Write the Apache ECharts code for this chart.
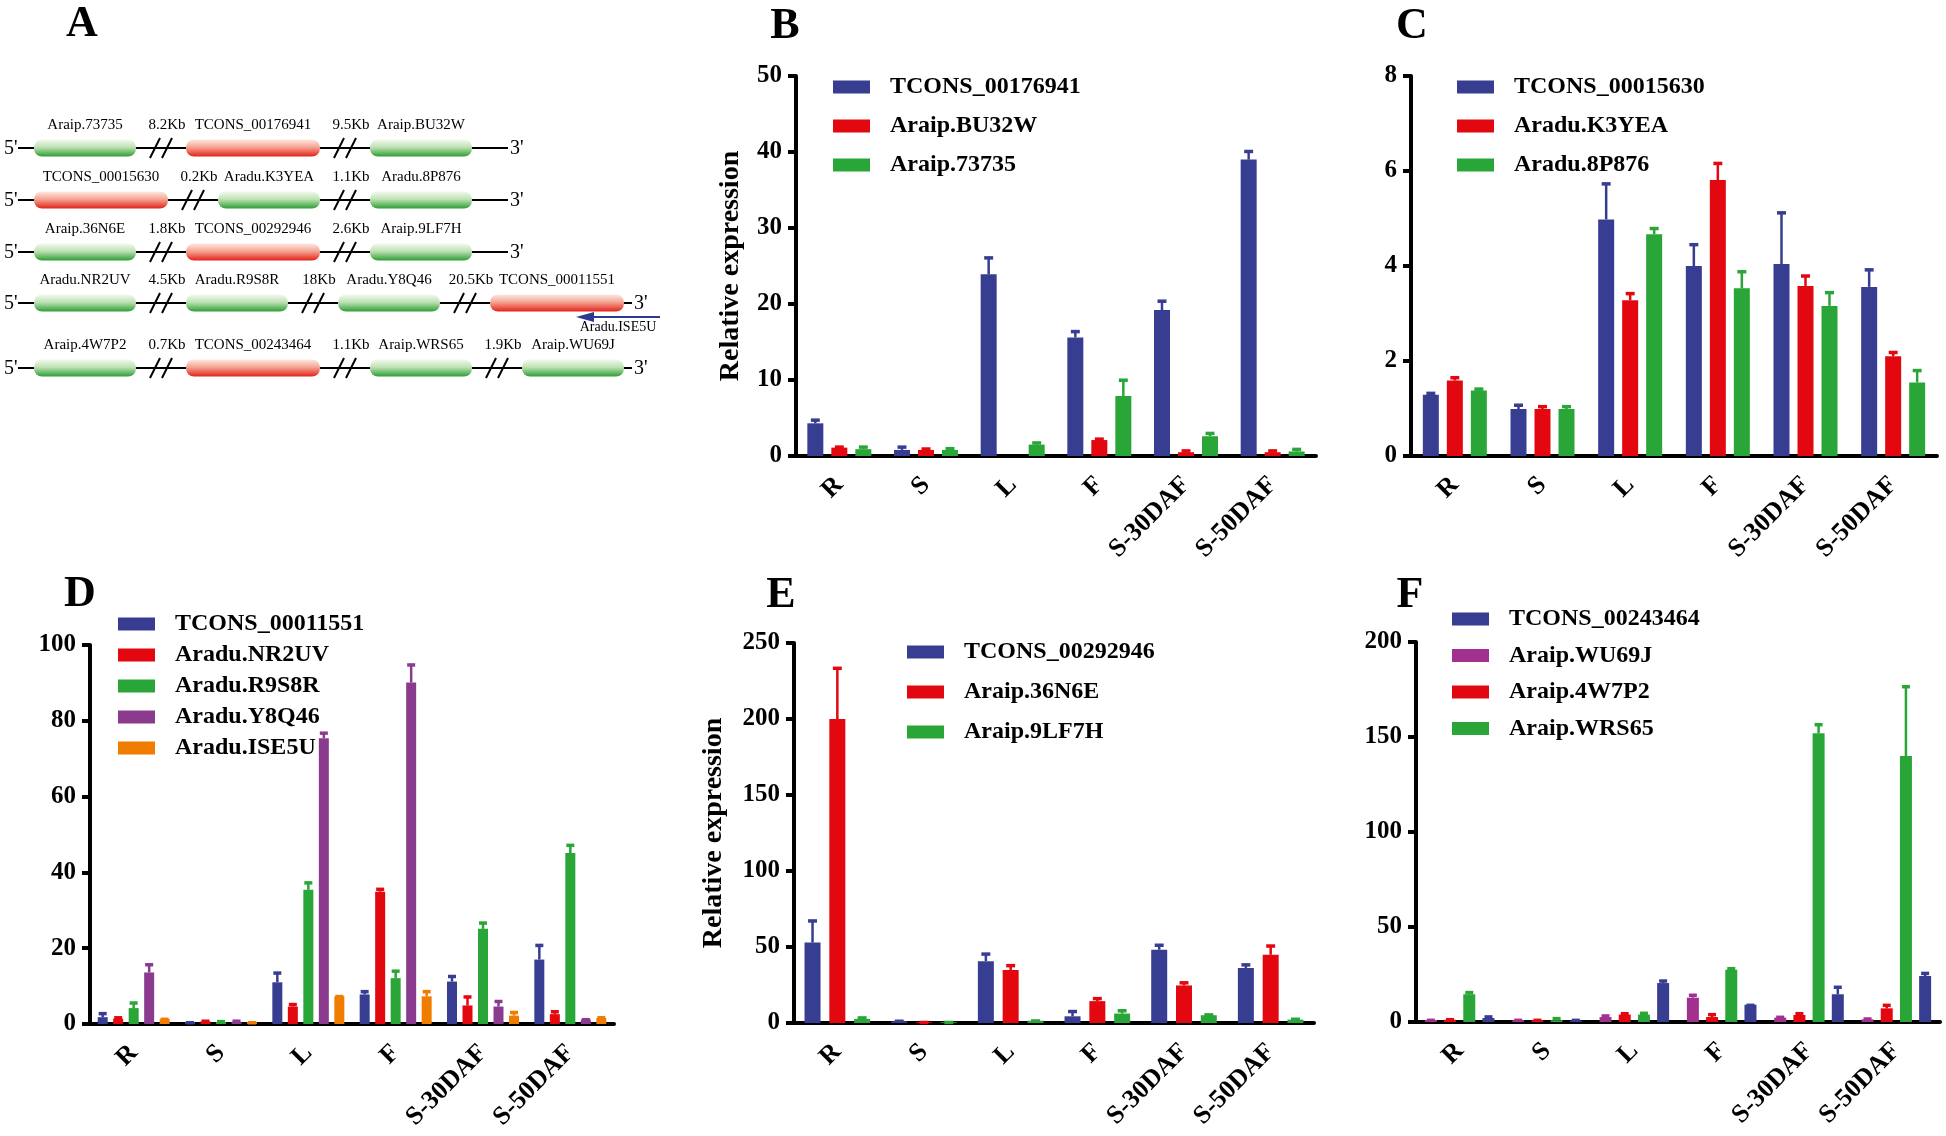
<!DOCTYPE html>
<html><head><meta charset="utf-8">
<script src="https://cdn.jsdelivr.net/npm/echarts/dist/echarts.min.js"></script>
<style>html,body{margin:0;padding:0;background:#fff}#c{width:1946px;height:1136px}</style>
</head><body><div id="c"></div>
<script>
// ---------- DATA ----------
const categories = ['R', 'S', 'L', 'F', 'S-30DAF', 'S-50DAF'];

// Panel A gene structure
const geneRows = [
  ['Araip.73735', 'TCONS_00176941', 'Araip.BU32W'],
  ['TCONS_00015630', 'Aradu.K3YEA', 'Aradu.8P876'],
  ['Araip.36N6E', 'TCONS_00292946', 'Araip.9LF7H'],
  ['Aradu.NR2UV', 'Aradu.R9S8R', 'Aradu.Y8Q46', 'TCONS_00011551'],
  ['Araip.4W7P2', 'TCONS_00243464', 'Araip.WRS65', 'Araip.WU69J']
];
const gapLabels = [
  ['8.2Kb', '9.5Kb'],
  ['0.2Kb', '1.1Kb'],
  ['1.8Kb', '2.6Kb'],
  ['4.5Kb', '18Kb', '20.5Kb'],
  ['0.7Kb', '1.1Kb', '1.9Kb']
];
const antisenseLabel = 'Aradu.ISE5U';

// Panel B
const bTicks = [0, 10, 20, 30, 40, 50];
const b_TCONS_00176941 = [4.3, 0.8, 23.9, 15.6, 19.2, 39.0];
const b_TCONS_00176941_err = [4.85, 1.3, 26.2, 16.5, 20.5, 40.2];
const b_BU32W = [1.1, 0.8, 0, 2.1, 0.5, 0.5];
const b_BU32W_err = [1.3, 1.05, null, 2.35, 0.8, 0.8];
const b_73735 = [0.9, 0.8, 1.5, 7.9, 2.6, 0.6];
const b_73735_err = [1.3, 1.1, 1.85, 10.1, 3.1, 1.0];

// Panel C
const cTicks = [0, 2, 4, 6, 8];
const c_TCONS_00015630 = [1.29, 0.99, 4.98, 4.0, 4.04, 3.56];
const c_TCONS_00015630_err = [1.34, 1.09, 5.75, 4.47, 5.14, 3.94];
const c_K3YEA = [1.59, 0.99, 3.28, 5.81, 3.58, 2.1];
const c_K3YEA_err = [1.67, 1.06, 3.44, 6.18, 3.81, 2.2];
const c_8P876 = [1.38, 0.99, 4.67, 3.53, 3.16, 1.55];
const c_8P876_err = [1.43, 1.06, 4.81, 3.9, 3.46, 1.82];

// Panel D
const dTicks = [0, 20, 40, 60, 80, 100];
const d_TCONS_00011551 = [1.8, 0.45, 11.0, 7.8, 11.2, 17.0];
const d_TCONS_00011551_err = [3.0, 0.6, 13.7, 8.8, 12.8, 21.0];
const d_NR2UV = [1.4, 0.7, 4.6, 34.9, 4.9, 2.6];
const d_NR2UV_err = [1.9, 1.0, 5.4, 35.8, 7.4, 3.5];
const d_R9S8R = [4.2, 0.5, 35.4, 12.1, 25.1, 45.1];
const d_R9S8R_err = [5.8, 0.9, 37.5, 14.2, 26.9, 47.4];
const d_Y8Q46 = [13.6, 0.6, 75.4, 90.1, 4.6, 1.2];
const d_Y8Q46_err = [15.9, 1.0, 77.0, 95.0, 6.2, 1.4];
const d_ISE5U = [1.3, 0.5, 7.3, 7.3, 2.2, 1.6];
const d_ISE5U_err = [1.5, 0.6, 7.5, 8.8, 3.3, 1.9];

// Panel E
const eTicks = [0, 50, 100, 150, 200, 250];
const e_TCONS_00292946 = [52.9, 1.1, 40.7, 4.4, 48.2, 36.2];
const e_TCONS_00292946_err = [67.8, 1.8, 46.0, 8.2, 51.8, 38.9];
const e_36N6E = [200, 0.6, 34.9, 14.4, 24.7, 44.9];
const e_36N6E_err = [234, 1.0, 38.4, 16.7, 27.1, 51.3];
const e_9LF7H = [2.7, 0.5, 1.5, 6.2, 5.1, 2.2];
const e_9LF7H_err = [4.0, 1.0, 2.0, 8.7, 6.0, 3.1];

// Panel F
const fTicks = [0, 50, 100, 150, 200];
const f_TCONS_00243464 = [2.1, 0.7, 20.5, 9.1, 14.6, 24.2];
const f_TCONS_00243464_err = [3.2, 1.4, 22.1, 9.3, 18.8, 26.1];
const f_WU69J = [1.05, 0.9, 2.6, 12.8, 2.3, 1.4];
const f_WU69J_err = [1.4, 1.4, 3.7, 14.6, 3.0, 2.1];
const f_4W7P2 = [1.2, 0.9, 3.9, 2.6, 3.7, 7.2];
const f_4W7P2_err = [1.75, 1.4, 4.9, 4.4, 4.9, 9.3];
const f_WRS65 = [14.6, 0.9, 3.9, 27.5, 152, 140];
const f_WRS65_err = [16.0, 2.3, 5.1, 28.6, 157, 177];

// ---------- STYLE ----------
const BLUE = '#373d91', RED = '#e3080f', GREEN = '#29a637', PURPLE = '#8a3b8e', ORANGE = '#f07c00', MAGENTA = '#a2308e';
const SERIF = '"Liberation Serif", "Times New Roman", serif';

const panels = [
  { letter: 'B', grid: { left: 796, top: 76, width: 520, height: 380 }, ticks: bTicks, bw: 16, gap: 0.5,
    yName: 'Relative expression', nameGap: 51,
    legend: { left: 833, top: 75, itemGap: 15 },
    letterPos: [785, 27],
    series: [
      { name: 'TCONS_00176941', color: BLUE, v: b_TCONS_00176941, e: b_TCONS_00176941_err },
      { name: 'Araip.BU32W', color: RED, v: b_BU32W, e: b_BU32W_err },
      { name: 'Araip.73735', color: GREEN, v: b_73735, e: b_73735_err }
    ], legendOrder: ['TCONS_00176941', 'Araip.BU32W', 'Araip.73735'] },
  { letter: 'C', grid: { left: 1411, top: 76, width: 526, height: 380 }, ticks: cTicks, bw: 16, gap: 0.5,
    legend: { left: 1457, top: 75, itemGap: 15 },
    letterPos: [1412, 27],
    series: [
      { name: 'TCONS_00015630', color: BLUE, v: c_TCONS_00015630, e: c_TCONS_00015630_err },
      { name: 'Aradu.K3YEA', color: RED, v: c_K3YEA, e: c_K3YEA_err },
      { name: 'Aradu.8P876', color: GREEN, v: c_8P876, e: c_8P876_err }
    ], legendOrder: ['TCONS_00015630', 'Aradu.K3YEA', 'Aradu.8P876'] },
  { letter: 'D', grid: { left: 90, top: 645, width: 524, height: 379 }, ticks: dTicks, bw: 10, gap: 0.55,
    legend: { left: 118, top: 612, itemGap: 7 },
    letterPos: [80, 595],
    series: [
      { name: 'TCONS_00011551', color: BLUE, v: d_TCONS_00011551, e: d_TCONS_00011551_err },
      { name: 'Aradu.NR2UV', color: RED, v: d_NR2UV, e: d_NR2UV_err },
      { name: 'Aradu.R9S8R', color: GREEN, v: d_R9S8R, e: d_R9S8R_err },
      { name: 'Aradu.Y8Q46', color: PURPLE, v: d_Y8Q46, e: d_Y8Q46_err },
      { name: 'Aradu.ISE5U', color: ORANGE, v: d_ISE5U, e: d_ISE5U_err }
    ], legendOrder: ['TCONS_00011551', 'Aradu.NR2UV', 'Aradu.R9S8R', 'Aradu.Y8Q46', 'Aradu.ISE5U'] },
  { letter: 'E', grid: { left: 794, top: 643, width: 520, height: 380 }, ticks: eTicks, bw: 16, gap: 0.55,
    yName: 'Relative expression', nameGap: 66,
    legend: { left: 907, top: 640, itemGap: 16 },
    letterPos: [781, 596],
    series: [
      { name: 'TCONS_00292946', color: BLUE, v: e_TCONS_00292946, e: e_TCONS_00292946_err },
      { name: 'Araip.36N6E', color: RED, v: e_36N6E, e: e_36N6E_err },
      { name: 'Araip.9LF7H', color: GREEN, v: e_9LF7H, e: e_9LF7H_err }
    ], legendOrder: ['TCONS_00292946', 'Araip.36N6E', 'Araip.9LF7H'] },
  { letter: 'F', grid: { left: 1416, top: 642, width: 524, height: 380 }, ticks: fTicks, bw: 12, gap: 0.6,
    legend: { left: 1452, top: 607, itemGap: 12.5 },
    letterPos: [1410, 596],
    series: [
      { name: 'Araip.WU69J', color: MAGENTA, v: f_WU69J, e: f_WU69J_err },
      { name: 'Araip.4W7P2', color: RED, v: f_4W7P2, e: f_4W7P2_err },
      { name: 'Araip.WRS65', color: GREEN, v: f_WRS65, e: f_WRS65_err },
      { name: 'TCONS_00243464', color: BLUE, v: f_TCONS_00243464, e: f_TCONS_00243464_err }
    ], legendOrder: ['TCONS_00243464', 'Araip.WU69J', 'Araip.4W7P2', 'Araip.WRS65'] }
];

const option = { animation: false, backgroundColor: '#fff', grid: [], xAxis: [], yAxis: [], series: [], legend: [], graphic: [] };

panels.forEach((p, pi) => {
  option.grid.push(p.grid);
  const ymax = p.ticks[p.ticks.length - 1];
  const ystep = p.ticks[1] - p.ticks[0];
  option.xAxis.push({
    gridIndex: pi, type: 'category', data: categories,
    axisLine: { lineStyle: { color: '#000', width: 4 } },
    axisTick: { alignWithLabel: true, length: 10, lineStyle: { color: '#000', width: 4 } },
    axisLabel: { rotate: 45, margin: 25, color: '#000', fontFamily: SERIF, fontWeight: 'bold', fontSize: 26, interval: 0 },
    splitLine: { show: false }
  });
  option.yAxis.push({
    gridIndex: pi, type: 'value', min: 0, max: ymax, interval: ystep,
    axisLine: { show: true, lineStyle: { color: '#000', width: 4 } },
    axisTick: { show: true, length: 8, lineStyle: { color: '#000', width: 4 } },
    axisLabel: { margin: 14, color: '#000', fontFamily: SERIF, fontWeight: 'bold', fontSize: 25 },
    splitLine: { show: false },
    name: p.yName || '', nameLocation: 'middle', nameGap: p.nameGap || 40, nameRotate: 90,
    nameTextStyle: { color: '#000', fontFamily: SERIF, fontWeight: 'bold', fontSize: 28 }
  });
  const n = p.series.length;
  p.series.forEach((s, si) => {
    option.series.push({
      type: 'bar', name: s.name, xAxisIndex: pi, yAxisIndex: pi,
      data: s.v, barWidth: p.bw, barGap: (p.gap * 100) + '%',
      itemStyle: { color: s.color }, z: 2
    });
    const errData = [];
    s.e.forEach((ev, ci) => { if (ev != null) errData.push([ci, s.v[ci], ev]); });
    const bw = p.bw, gap = p.gap, color = s.color;
    option.series.push({
      type: 'custom', name: s.name + ' SEM', xAxisIndex: pi, yAxisIndex: pi, z: 3,
      encode: { x: 0, y: 1 },
      data: errData,
      renderItem: function (params, api) {
        const c = api.value(0), v = api.value(1), e = api.value(2);
        const base = api.coord([c, v]);
        const top = api.coord([c, e]);
        const step = bw * (1 + gap);
        const total = n * bw + (n - 1) * gap * bw;
        const x = base[0] - total / 2 + bw / 2 + si * step;
        const cap = Math.max(4, bw * 0.28);
        return {
          type: 'group', children: [
            { type: 'line', shape: { x1: x, y1: base[1], x2: x, y2: top[1] }, style: { stroke: color, lineWidth: 2.5 } },
            { type: 'line', shape: { x1: x - cap, y1: top[1] + 1, x2: x + cap, y2: top[1] + 1 }, style: { stroke: color, lineWidth: 3.5 } }
          ]
        };
      }
    });
  });
  option.legend.push({
    data: p.legendOrder.map(nm => ({ name: nm, icon: 'rect' })),
    orient: 'vertical', left: p.legend.left, top: p.legend.top, itemGap: p.legend.itemGap,
    itemWidth: 37, itemHeight: 13, selectedMode: false, padding: 0,
    textStyle: { color: '#000', fontFamily: SERIF, fontWeight: 'bold', fontSize: 24, lineHeight: 24, padding: [0, 0, 0, 15] }
  });
  option.graphic.push({
    type: 'text', x: p.letterPos[0], y: p.letterPos[1], z: 10,
    style: { text: p.letter, font: 'bold 44px ' + SERIF, fill: '#000', align: 'center', verticalAlign: 'middle' }
  });
});

// ---------- Panel A (gene structure schematic) ----------
option.graphic.push({
  type: 'text', x: 82, y: 25,
  style: { text: 'A', font: 'bold 44px ' + SERIF, fill: '#000', align: 'center', verticalAlign: 'middle' }
});
const rowY = [148, 200, 252, 303, 368];
function gradFor(isRed) {
  return isRed
    ? new echarts.graphic.LinearGradient(0, 0, 0, 1, [{ offset: 0, color: '#fde8e2' }, { offset: 0.45, color: '#f5a593' }, { offset: 1, color: '#e2231a' }])
    : new echarts.graphic.LinearGradient(0, 0, 0, 1, [{ offset: 0, color: '#f2f9ee' }, { offset: 0.45, color: '#bfe2b5' }, { offset: 1, color: '#2f9e35' }]);
}
geneRows.forEach((genes, r) => {
  const y = rowY[r];
  let x = 34;
  const els = [];
  genes.forEach((g, i) => {
    const isRed = g.indexOf('TCONS') === 0;
    const w = isRed ? 134 : 102;
    els.push({ type: 'rect', z: 5, shape: { x: x, y: y - 8.5, width: w, height: 17, r: 8 }, style: { fill: gradFor(isRed) } });
    els.push({ type: 'text', z: 5, x: x + w / 2, y: y - 23, style: { text: g, font: '15px ' + SERIF, fill: '#000', align: 'center', verticalAlign: 'middle' } });
    x += w;
    if (i < genes.length - 1) {
      const gx = x + 25;
      [-6, 6].forEach(dx => {
        els.push({ type: 'line', z: 6, shape: { x1: gx + dx - 5, y1: y + 10, x2: gx + dx + 5, y2: y - 10 }, style: { stroke: '#000', lineWidth: 2 } });
      });
      els.push({ type: 'text', z: 5, x: gx + 6, y: y - 23, style: { text: gapLabels[r][i], font: '15px ' + SERIF, fill: '#000', align: 'center', verticalAlign: 'middle' } });
      x += 50;
    }
  });
  const lineEnd = Math.max(x + 8, 508);
  option.graphic.push({ type: 'line', z: 4, shape: { x1: 18, y1: y, x2: lineEnd, y2: y }, style: { stroke: '#000', lineWidth: 2 } });
  option.graphic.push({ type: 'text', z: 5, x: 4, y: y + 1, style: { text: "5'", font: '20px ' + SERIF, fill: '#000', align: 'left', verticalAlign: 'middle' } });
  option.graphic.push({ type: 'text', z: 5, x: lineEnd + 2, y: y + 1, style: { text: "3'", font: '20px ' + SERIF, fill: '#000', align: 'left', verticalAlign: 'middle' } });
  els.forEach(e => option.graphic.push(e));
});
// antisense arrow under row 4
option.graphic.push({ type: 'line', z: 6, shape: { x1: 590, y1: 317, x2: 660, y2: 317 }, style: { stroke: '#2b3990', lineWidth: 2 } });
option.graphic.push({ type: 'polygon', z: 6, shape: { points: [[576, 317], [594, 312], [594, 322]] }, style: { fill: '#2b3990' } });
option.graphic.push({ type: 'text', z: 6, x: 618, y: 327, style: { text: antisenseLabel, font: '14px ' + SERIF, fill: '#000', align: 'center', verticalAlign: 'middle' } });

const chart = echarts.init(document.getElementById('c'), null, { renderer: 'canvas' });
chart.setOption(option);
</script></body></html>
